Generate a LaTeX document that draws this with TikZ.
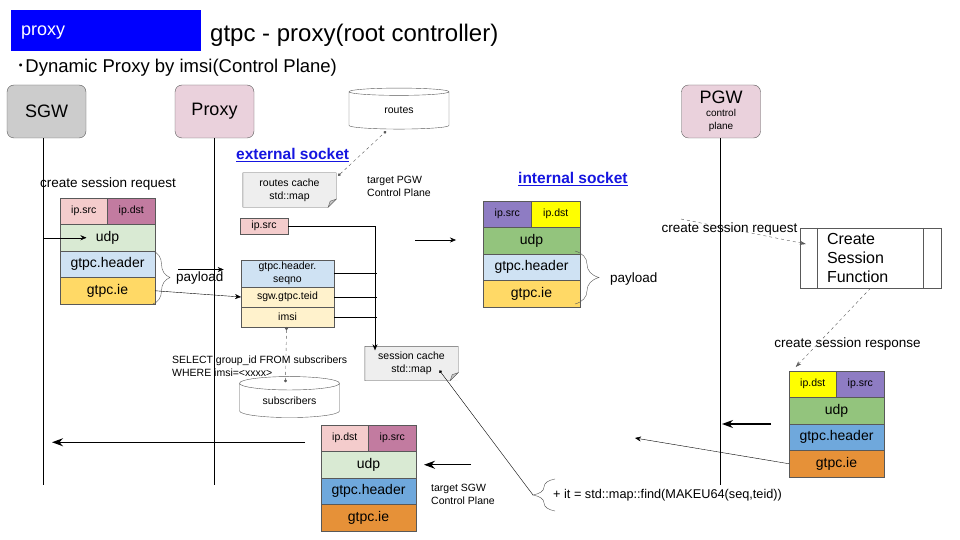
\documentclass[tikz,border=0pt]{standalone}
\usepackage{fontspec}
\setmainfont{Liberation Sans}
\newfontfamily\cjk{Noto Sans CJK JP}
\usetikzlibrary{arrows.meta,positioning,shapes.geometric,decorations.pathreplacing}

\definecolor{tagblue}{HTML}{0000FF}
\definecolor{sgwgray}{HTML}{CCCCCC}
\definecolor{lanepink}{HTML}{EAD1DC}
\definecolor{srcpink}{HTML}{F4CCCC}
\definecolor{dstmauve}{HTML}{C27BA0}
\definecolor{udplight}{HTML}{D9EAD3}
\definecolor{hdrlight}{HTML}{CFE2F3}
\definecolor{iegold}{HTML}{FFD966}
\definecolor{cream}{HTML}{FFF2CC}
\definecolor{ipviolet}{HTML}{8E7CC3}
\definecolor{ipyellow}{HTML}{FFFF00}
\definecolor{udpgreen}{HTML}{93C47D}
\definecolor{hdrblue}{HTML}{6FA8DC}
\definecolor{ieorange}{HTML}{E69138}
\definecolor{notegray}{HTML}{EEEEEE}
\definecolor{edge}{HTML}{595959}
\definecolor{linkblue}{HTML}{1515E0}

\begin{document}
\begin{tikzpicture}
[x=1pt, y=-1pt,
>={Stealth[length=6pt,width=5pt]},
lane/.style={draw=edge, rounded corners=7pt, minimum width=79pt,
  minimum height=53pt, font=\fontsize{18}{20}\selectfont},
cell/.style={draw=edge, inner sep=0pt, outer sep=0pt, minimum width=95pt,
  minimum height=26.5pt, anchor=north west, font=\fontsize{14}{16}\selectfont},
half/.style={cell, minimum width=47.5pt, font=\fontsize{10.5}{12}\selectfont},
field/.style={cell, minimum width=93pt, minimum height=20pt, align=center,
  font=\fontsize{10.5}{13}\selectfont},
note/.style={fill=notegray, minimum width=93pt, minimum height=34pt, inner sep=1pt,
  align=center, font=\fontsize{10.5}{13}\selectfont},
store/.style={cylinder, shape border rotate=90, draw=edge, aspect=0.25,
  minimum width=100pt, minimum height=41pt, inner sep=0pt,
  font=\fontsize{10.5}{12}\selectfont},
smalltext/.style={font=\fontsize{10.5}{13}\selectfont, align=left, inner sep=0pt},
msg/.style={font=\fontsize{13.5}{16}\selectfont, inner sep=0pt},
link/.style={text=linkblue, font=\fontsize{15.5}{18}\selectfont\bfseries, inner sep=0pt},
dots/.style={edge, dashed, {Circle[length=3pt]}-{Circle[length=3pt]}},
flow/.style={edge, dashed, -{Stealth[length=6pt,width=4pt]}},
bold/.style={very thick, -{Stealth[length=11pt,width=8pt]}},
payload/.style={decorate, decoration={brace, amplitude=#1}, edge}]
  \path[fill=white] (0,0) rectangle (960,540);
  \useasboundingbox (0,0) rectangle (960,540);

  \node[fill=tagblue, minimum width=190pt, minimum height=41pt, anchor=north west,
    label={[text=white, inner sep=0pt, anchor=west, xshift=10pt, yshift=-2pt,
      font=\fontsize{18}{20}\selectfont]west:proxy}] (tag) at (11,10) {};
  \node[anchor=west, inner sep=0pt, font=\fontsize{24}{28}\selectfont] (title) at (210,35) {gtpc - proxy(root controller)};
  \node[anchor=west, inner sep=0pt, font=\fontsize{18.5}{22}\selectfont] (sub) at (16,68) {{\cjk ･}Dynamic Proxy by imsi(Control Plane)};

  \node[lane, fill=sgwgray] (sgw) at (46.5,111.5) {SGW};
  \node[lane, fill=lanepink] (proxy) at (214.5,111.5) {Proxy};
  \node[lane, fill=lanepink, align=center, inner sep=0pt, font=\fontsize{10}{13}\selectfont] (pgw) at (721,111.5)
    {{\fontsize{18}{18}\selectfont PGW}\\control\\plane};
  \coordinate (sgwend) at (43,485);
  \coordinate (proxyend) at (214,485);
  \coordinate (pgwend) at (720,485);
  \draw (sgwend |- sgw.south) -- (sgwend);
  \draw (proxyend |- proxy.south) -- (proxyend);
  \draw (pgwend |- pgw.south) -- (pgwend);

  \node[store] (routes) at (399,110.5) {routes};
  \node[link, anchor=west] (ext) at (236,155) {\underline{external socket}};
  \node[link, anchor=west] (int) at (518,179) {\underline{internal socket}};
  \node[note] (rcache) at (289.5,190) {routes cache\\std::map};
  \node[note] (scache) at (411.5,363.5) {session cache\\std::map};
  \foreach \n in {rcache,scache} {
    \fill[white] ([yshift=8pt]\n.south east) -- (\n.south east) -- ([xshift=-8pt]\n.south east) -- cycle;
    \draw[edge] (\n.north west) -- (\n.north east) -- ([yshift=8pt]\n.south east)
      -- ([xshift=-8pt]\n.south east) -- (\n.south west) -- cycle;
    \filldraw[draw=edge, fill=gray!45] ([yshift=8pt]\n.south east) -- ([xshift=-8pt]\n.south east)
      -- ([xshift=-6pt,yshift=6pt]\n.south east) -- cycle;
  }
  \draw[dots] ([xshift=2pt,yshift=-3pt]rcache.north east) -- ([xshift=-13pt,yshift=-2pt]routes.south);
  \node[smalltext, anchor=west] (tpgw) at (367,186.5) {target PGW\\Control Plane};

  \node[msg] (csgw) at (108,184) {create session request};
  \node[half, fill=srcpink] (ssrc) at (60,198) {ip.src};
  \node[half, fill=dstmauve, right=0pt of ssrc.north east, anchor=north west] (sdst) {ip.dst};
  \node[cell, fill=udplight, below=0pt of ssrc.south west, anchor=north west] (sudp) {udp};
  \node[cell, fill=hdrlight, below=0pt of sudp.south west, anchor=north west] (shdr) {gtpc.header};
  \node[cell, fill=iegold, below=0pt of shdr.south west, anchor=north west] (sie) {gtpc.ie};
  \draw[->] (sudp -| sgwend) -- ([xshift=-21pt]sudp.center);
  \draw[payload=17pt] ([xshift=-2pt]shdr.north east) -- ([xshift=-2pt]sie.south east);
  \node[msg, anchor=west] (spay) at (176,278) {payload};
  \draw[->] ([xshift=2pt,yshift=2pt]spay.north west) -- ([yshift=2pt]spay.north east);

  \node[field, fill=srcpink, minimum width=48pt, minimum height=16pt] (psrc) at (240,218) {ip.src};
  \node[field, fill=hdrlight, minimum height=27pt] (seqno) at (241,260) {gtpc.header.\\seqno};
  \node[field, fill=cream, below=0pt of seqno.south west, anchor=north west] (teid) {sgw.gtpc.teid};
  \node[field, fill=cream, below=0pt of teid.south west, anchor=north west] (imsi) {imsi};
  \draw[->] (sie.east) -- (teid.west);
  \coordinate (bus) at (375,228);
  \draw[->] (psrc.east) -- (psrc.east -| bus) -- ([yshift=-4pt]bus |- scache.north);
  \foreach \f in {seqno,teid,imsi}
    \draw (\f.east) -- ([xshift=2pt]\f.east -| bus);

  \coordinate (gofrom) at (415,240);
  \coordinate (goto) at (456,240);
  \draw[->] (gofrom) -- (goto);

  \node[half, minimum width=48.5pt, fill=ipviolet] (isrc) at (483,201) {ip.src};
  \node[half, minimum width=48.5pt, fill=ipyellow, right=0pt of isrc.north east, anchor=north west] (idst) {ip.dst};
  \node[cell, minimum width=97pt, fill=udpgreen, below=0pt of isrc.south west, anchor=north west] (iudp) {udp};
  \node[cell, minimum width=97pt, fill=hdrlight, below=0pt of iudp.south west, anchor=north west] (ihdr) {gtpc.header};
  \node[cell, minimum width=97pt, fill=iegold, below=0pt of ihdr.south west, anchor=north west] (iie) {gtpc.ie};
  \draw[payload=24pt] ([xshift=-5pt,yshift=3pt]iudp.south east) -- ([xshift=-5pt,yshift=3pt]iie.south east);
  \node[msg, anchor=west] (ipay) at (610,279) {payload};

  \node[draw=edge, minimum height=60pt, text width=87pt, inner xsep=27pt, align=left,
    font=\fontsize{16}{19}\selectfont] (csf) at (870.5,258) {Create\\Session\\Function};
  \draw[edge] ([xshift=17pt]csf.north west) -- ([xshift=17pt]csf.south west);
  \draw[edge] ([xshift=-18pt]csf.north east) -- ([xshift=-18pt]csf.south east);
  \coordinate (reqfrom) at (681,219);
  \draw[flow] (reqfrom) -- ([xshift=6pt,yshift=14pt]csf.west);
  \node[msg] (creq) at (729.5,229) {create session request};

  \node[msg] (cres) at (847.5,344) {create session response};
  \node[half, fill=ipyellow] (rdst) at (789,371) {ip.dst};
  \node[half, fill=ipviolet, right=0pt of rdst.north east, anchor=north west] (rsrc) {ip.src};
  \node[cell, fill=udpgreen, below=0pt of rdst.south west, anchor=north west] (rudp) {udp};
  \node[cell, fill=hdrblue, below=0pt of rudp.south west, anchor=north west] (rhdr) {gtpc.header};
  \node[cell, fill=ieorange, below=0pt of rhdr.south west, anchor=north west] (rie) {gtpc.ie};
  \draw[flow] (csf.south) -- ([xshift=-17pt,yshift=4pt]rdst.north);
  \draw[bold] ([xshift=-18pt]rhdr.north west) -- ([xshift=2pt]rhdr.north west -| pgwend);
  \coordinate (goback) at (635,438);
  \draw[->] (rie.west) -- (goback);

  \node[store] (subs) at (289.5,400.5) {subscribers};
  \draw[dots] ([xshift=-1pt]imsi.south) -- ([xshift=-4pt,yshift=-6pt]subs.north);
  \node[smalltext, anchor=west] (query) at (172,366.5) {SELECT group\_id FROM subscribers\\WHERE imsi=<xxxx>};

  \node[msg, anchor=west, font=\fontsize{12.7}{15}\selectfont] (findtxt) at (553,495) {+ it = std::map::find(MAKEU64(seq,teid))};
  \draw[payload=22pt] ([xshift=2pt,yshift=-16pt]findtxt.west) -- ([xshift=2pt,yshift=16pt]findtxt.west);
  \draw[{Circle[length=3pt]}-] ([xshift=28pt,yshift=-7pt]scache.center) -- ([xshift=-20pt]findtxt.west);

  \node[half, fill=srcpink] (bdst) at (321,425) {ip.dst};
  \node[half, fill=dstmauve, right=0pt of bdst.north east, anchor=north west] (bsrc) {ip.src};
  \node[cell, fill=udplight, below=0pt of bdst.south west, anchor=north west] (budp) {udp};
  \node[cell, fill=hdrblue, below=0pt of budp.south west, anchor=north west] (bhdr) {gtpc.header};
  \node[cell, fill=ieorange, below=0pt of bhdr.south west, anchor=north west] (bie) {gtpc.ie};
  \draw[bold] ([xshift=55pt]budp.east) -- ([xshift=8pt]budp.east);
  \draw[bold] ([xshift=-16pt,yshift=-4pt]bdst.west) -- ([xshift=9pt,yshift=-4pt]bdst.west -| sgwend);
  \node[smalltext, anchor=west] (tsgw) at (431,494.5) {target SGW\\Control Plane};
\end{tikzpicture}
\end{document}
